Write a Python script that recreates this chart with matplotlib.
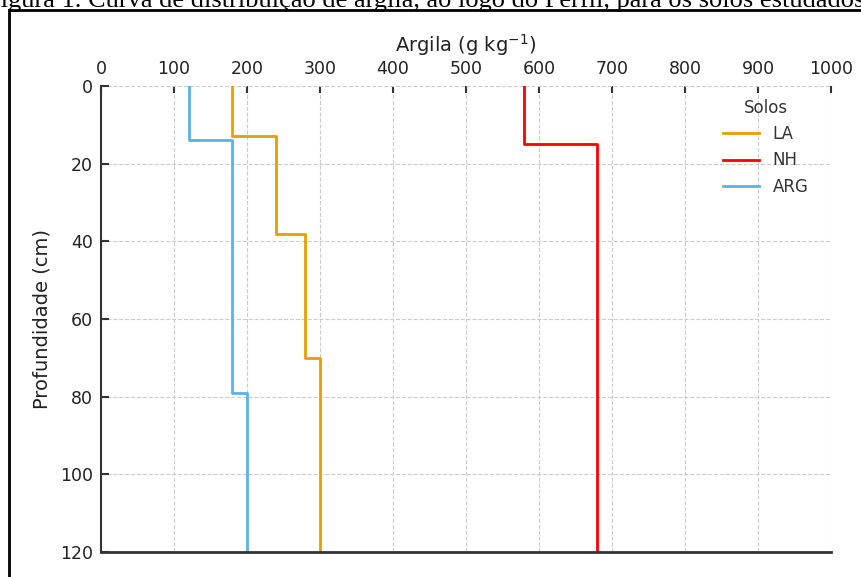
import matplotlib.pyplot as plt
from matplotlib.lines import Line2D

# camadas: profundidade do topo/base (cm) e argila (g/kg)
la_depth = [0, 13, 38, 70, 120]
la_clay = [180, 240, 280, 300]

nh_depth = [0, 15, 120]
nh_clay = [580, 680]

arg_depth = [0, 14, 79, 120]
arg_clay = [120, 180, 200]

solos = ["LA", "NH", "ARG"]
cores = ["#E69F00", "red", "#56B4E9"]
xticks = list(range(0, 1001, 100))
yticks = list(range(0, 121, 20))


def perfil(depth, clay):
    xs, ys = [], []
    for i, v in enumerate(clay):
        xs += [v, v]
        ys += [depth[i], depth[i + 1]]
    return xs, ys


fig = plt.figure(figsize=(8.61, 5.77), dpi=100)
ax = fig.add_axes([101 / 861, 1 - 552 / 577, 730 / 861, 466 / 577])

for (d, c), nome, cor in zip([(la_depth, la_clay), (nh_depth, nh_clay), (arg_depth, arg_clay)], solos, cores):
    xs, ys = perfil(d, c)
    ax.plot(xs, ys, color=cor, lw=2, label=nome)

ax.set_xlim(0, 1000)
ax.set_ylim(120, 0)
ax.set_xticks(xticks)
ax.set_yticks(yticks)
ax.xaxis.tick_top()
ax.xaxis.set_label_position("top")
ax.tick_params(axis="x", direction="in", length=5, width=1.5, colors="#333333",
               labelsize=12.5, labelcolor="#222222", pad=6)
ax.tick_params(axis="y", direction="in", length=6, width=1.5, colors="#333333",
               labelsize=12.5, labelcolor="#222222", pad=6)
ax.set_xlabel("Argila (g kg$^{-1}$)", fontsize=14, color="#222222", labelpad=6)
ax.set_ylabel("Profundidade (cm)", fontsize=14, color="#222222", labelpad=6)
ax.grid(True, ls="--", lw=0.8, color="#cccccc")
ax.set_axisbelow(True)
for s in ["top", "right"]:
    ax.spines[s].set_visible(False)
ax.spines["left"].set_color("#333333")
ax.spines["left"].set_linewidth(1.5)
ax.spines["bottom"].set_color("#333333")
ax.spines["bottom"].set_linewidth(2)

leg = ax.legend(title="Solos", frameon=False, fontsize=12, title_fontsize=12,
                loc="upper right", bbox_to_anchor=(0.99, 1.005), handlelength=2.2)
for t in leg.get_texts():
    t.set_color("#333333")
leg.get_title().set_color("#333333")

# moldura e legenda da página (cortada no topo)
fig.add_artist(Line2D([9 / 861, 1], [1 - 10 / 577] * 2, color="black", lw=2))
fig.add_artist(Line2D([9 / 861] * 2, [0, 1 - 10 / 577], color="black", lw=2))
fig.text(-14 / 861, 1 - 6.5 / 577,
         "Figura 1. Curva de distribuição de argila, ao logo do Perfil, para os solos estudados.",
         family="Liberation Serif", fontsize=19, ha="left", va="baseline", color="black")

fig.savefig("out.png", dpi=100)
